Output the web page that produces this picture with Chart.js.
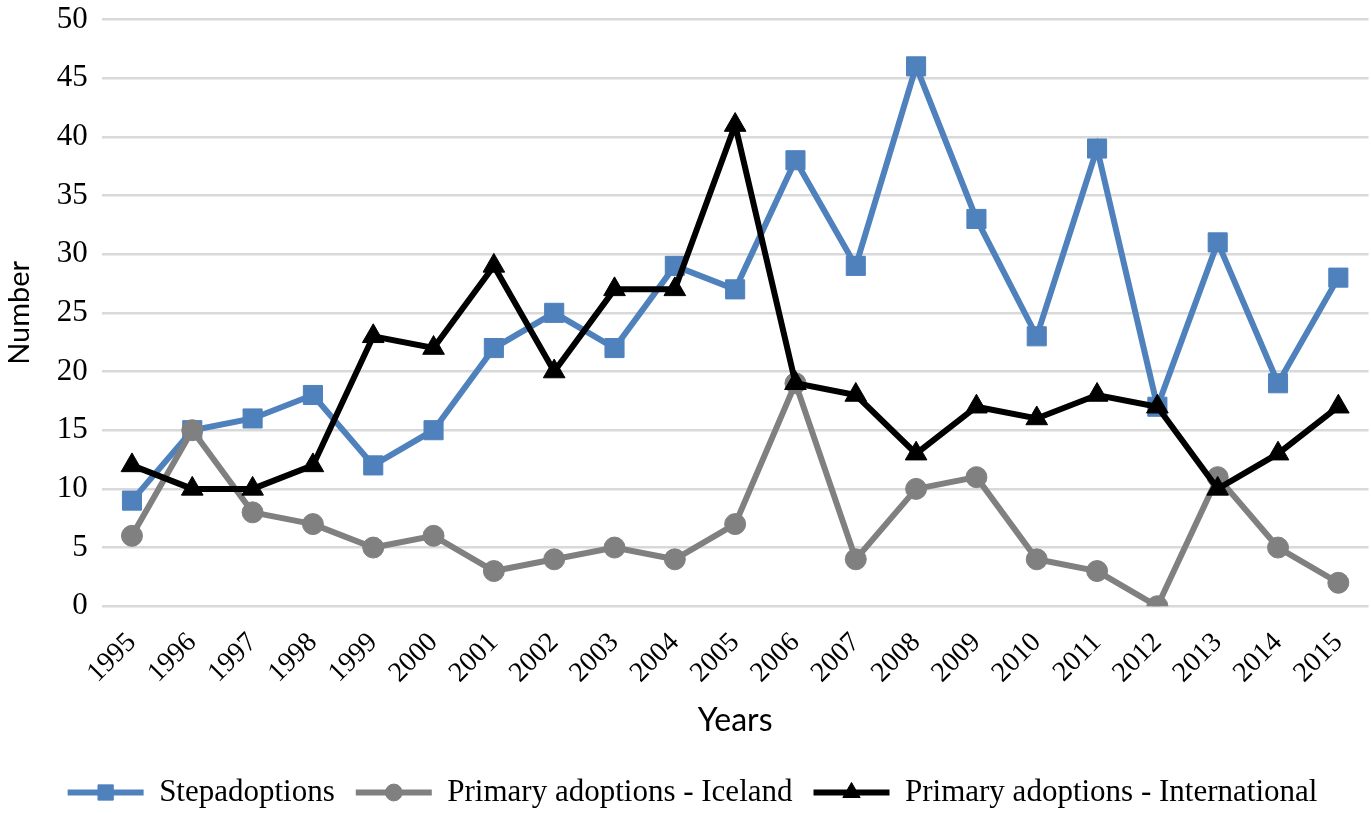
<!DOCTYPE html>
<html><head><meta charset="utf-8">
<script src="https://cdn.jsdelivr.net/npm/chart.js@4"></script>
<style>html,body{margin:0;background:#fff;overflow:hidden}#wrap{width:1383px;height:813px}</style>
</head><body><div id="wrap"><canvas id="c"></canvas></div>
<script>
// data
const years=['1995','1996','1997','1998','1999','2000','2001','2002','2003','2004','2005','2006','2007','2008','2009','2010','2011','2012','2013','2014','2015'];
const stepadoptions=[9,15,16,18,12,15,22,25,22,29,27,38,29,46,33,23,39,17,31,19,28];
const iceland=[6,15,8,7,5,6,3,4,5,4,7,19,4,10,11,4,3,0,11,5,2];
const international=[12,10,10,12,23,22,29,20,27,27,41,19,18,13,17,16,18,17,10,13,17];
const yTicks=[0,5,10,15,20,25,30,35,40,45,50];

const serif='"Liberation Serif","Times New Roman",serif';
const sans='Lato,"Liberation Sans",sans-serif';
const BOXW=76;
const mk=(label,data,color,style,r,order)=>({label,data,borderColor:color,backgroundColor:color,
  borderWidth:6,pointStyle:style,pointRadius:r,pointHoverRadius:r,pointBorderWidth:1,tension:0,order});

// draw the marker on top of the legend line sample
const legendMarks={id:'legendMarks',afterDraw(chart){
  const lg=chart.legend,ctx=chart.ctx;
  lg.legendItems.forEach((it,i)=>{
    const hb=lg.legendHitBoxes[i],ds=chart.data.datasets[it.datasetIndex];
    ctx.save();ctx.fillStyle=ds.backgroundColor;ctx.strokeStyle=ds.borderColor;
    Chart.helpers.drawPoint(ctx,{pointStyle:ds.pointStyle,radius:ds.pointRadius*0.8,borderWidth:1,rotation:0},
      hb.left+BOXW/2,hb.top+hb.height/2);
    ctx.restore();
  });
}};

new Chart(document.getElementById('c'),{
  type:'line',
  data:{labels:years,datasets:[
    mk('Stepadoptions',stepadoptions,'#4f81bd','rect',13.5,3),
    mk('Primary adoptions - Iceland',iceland,'#808080','circle',10.5,2),
    mk('Primary adoptions - International',international,'#000000','triangle',12.5,1)
  ]},
  options:{
    responsive:true,maintainAspectRatio:false,animation:false,
    layout:{padding:{left:2,right:0,top:0,bottom:-5}},
    plugins:{
      tooltip:{enabled:false},
      legend:{position:'bottom',labels:{
        font:{family:serif,size:31},color:'#000',boxWidth:BOXW,boxHeight:6,padding:21,
        sort:(a,b)=>a.datasetIndex-b.datasetIndex,
        generateLabels:c=>Chart.defaults.plugins.legend.labels.generateLabels(c).map(l=>({...l,lineWidth:0}))
      }}
    },
    scales:{
      x:{offset:true,grid:{display:false},border:{display:false},
        ticks:{font:{family:serif,size:28},color:'#000',minRotation:45,maxRotation:45,autoSkip:false,padding:12},
        title:{display:true,text:'Years',font:{family:sans,size:32},color:'#000',padding:{top:0,bottom:16}}},
      y:{min:0,max:50,afterBuildTicks:s=>{s.ticks=yTicks.map(v=>({value:v}))},
        grid:{color:'#d9d9d9',lineWidth:2.5,drawTicks:false},border:{display:false},
        ticks:{font:{family:serif,size:31,lineHeight:0.35},color:'#000',padding:14},
        title:{display:true,text:'Number',font:{family:sans,size:29},color:'#000',padding:{top:0,bottom:6}}}
    }
  },
  plugins:[legendMarks]
});
</script></body></html>
